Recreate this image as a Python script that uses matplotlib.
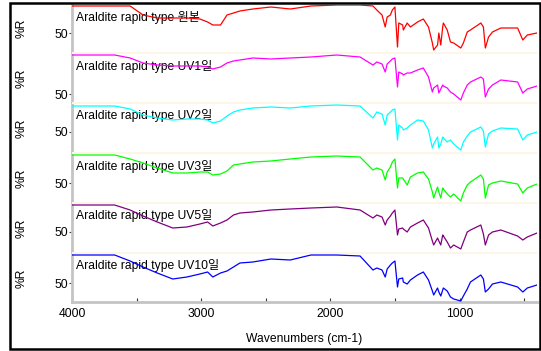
import matplotlib
matplotlib.use('Agg')
import matplotlib.pyplot as plt
from matplotlib.patches import Rectangle

# wavenumber grid (cm-1)
wavenumbers = [4000, 3670, 3550, 3450, 3340, 3220, 3110, 3010, 2950, 2910,
               2850, 2800, 2750, 2700, 2600, 2460, 2310, 2150, 1950, 1770,
               1670, 1640, 1600, 1575, 1560, 1535, 1520, 1500, 1480, 1470,
               1440, 1435, 1405, 1380, 1325, 1280, 1240, 1210, 1200, 1170,
               1160, 1145, 1130, 1125, 1095, 1070, 1045, 990, 970, 940,
               915, 835, 815, 800, 775, 745, 680, 550, 510, 475,
               400]

# %R
r_original = [77, 77, 77, 68, 65, 65, 65, 64, 61, 58,
              58, 68, 70, 72, 74, 76, 74, 77, 78, 78,
              77, 73, 68, 56, 66, 68, 73, 76, 36, 60,
              58, 53, 60, 56, 61, 64, 56, 40, 33, 38,
              50, 38, 56, 60, 53, 41, 40, 35, 40, 51,
              53, 60, 56, 35, 46, 51, 55, 55, 43, 48,
              50]
r_uv1 = [89, 89, 86, 81, 79, 78, 78, 78, 77, 75,
         77, 81, 83, 84, 86, 85, 86, 87, 89, 87,
         79, 82, 80, 72, 80, 83, 85, 86, 57, 72,
         70, 69, 71, 71, 74, 76, 67, 52, 56, 59,
         51, 55, 59, 58, 56, 52, 50, 44, 51, 59,
         62, 67, 65, 47, 55, 59, 64, 62, 51, 55,
         58]
r_uv2 = [76, 76, 73, 67, 64, 62, 63, 63, 62, 59,
         61, 66, 70, 72, 74, 75, 74, 76, 77, 76,
         64, 70, 68, 57, 67, 70, 72, 73, 42, 57,
         54, 52, 54, 57, 62, 61, 52, 34, 38, 45,
         34, 38, 45, 44, 40, 42, 38, 32, 40, 46,
         50, 55, 51, 35, 48, 51, 54, 53, 42, 47,
         50]
r_uv3 = [78, 78, 74, 70, 65, 60, 60, 61, 61, 58,
         59, 62, 68, 69, 71, 72, 74, 76, 77, 76,
         63, 65, 63, 53, 61, 66, 71, 74, 45, 55,
         55, 54, 48, 56, 60, 61, 54, 41, 35, 46,
         41, 35, 45, 44, 39, 36, 39, 32, 40, 48,
         51, 58, 54, 35, 48, 50, 52, 49, 40, 45,
         49]
r_uv5 = [77, 77, 72, 66, 60, 54, 55, 58, 60, 56,
         59, 62, 67, 69, 70, 72, 73, 74, 75, 72,
         64, 67, 65, 57, 62, 66, 69, 72, 47, 53,
         54, 53, 50, 55, 59, 62, 54, 41, 37, 44,
         41, 37, 47, 46, 40, 34, 37, 33, 40, 50,
         52, 57, 48, 37, 47, 50, 52, 46, 42, 45,
         49]
r_uv10 = [78, 78, 72, 66, 60, 54, 56, 59, 61, 56,
          60, 62, 66, 70, 71, 74, 73, 78, 78, 77,
          63, 65, 63, 56, 64, 68, 70, 72, 46, 54,
          55, 51, 49, 53, 58, 61, 53, 42, 38, 45,
          41, 37, 43, 45, 42, 36, 34, 32, 37, 44,
          51, 58, 54, 41, 44, 49, 51, 46, 41, 45,
          48]

series = [r_original, r_uv1, r_uv2, r_uv3, r_uv5, r_uv10]
labels = ['Araldite rapid type 원본', 'Araldite rapid type UV1일',
          'Araldite rapid type UV2일', 'Araldite rapid type UV3일',
          'Araldite rapid type UV5일', 'Araldite rapid type UV10일']
colors = ['#ff0000', '#ff00ff', '#00ffff', '#00ff00', '#800080', '#0000ff']

plt.rcParams['font.family'] = ['Liberation Sans', 'Noto Sans CJK KR']

W, H = 541, 351
fig = plt.figure(figsize=(W / 100, H / 100), dpi=100)

# panel layout in pixels
x0, x1 = 72, 537
tops = [5, 54, 104, 154, 204, 254]
bottoms = [52, 102, 152, 202, 252, 302]
tick50 = [33, 94, 132, 183, 232, 283]
cream = '#fdf5e6'

for i in range(6):
    t, b = tops[i], bottoms[i]
    ax = fig.add_axes([x0 / W, 1 - b / H, (x1 - x0) / W, (b - t) / H])
    ax.plot(wavenumbers, series[i], color=colors[i], lw=0.9, zorder=3)
    ax.set_xlim(4000, 400)
    ax.set_ylim(50 - (b - tick50[i]), 50 + (tick50[i] - t))
    ax.set_yticks([50])
    ax.tick_params(axis='y', length=2, width=0.8, pad=1, labelsize=8.7,
                   color='#444444')
    for s in ['top', 'right']:
        ax.spines[s].set_visible(False)
    ax.spines['left'].set_color('#c4c4c4')
    ax.spines['left'].set_linewidth(2)
    ax.text((76 - x0) / (x1 - x0), 1 - 12 / (b - t), labels[i],
            transform=ax.transAxes, va='center', ha='left', fontsize=8.7,
            zorder=1)
    fig.text(22 / W, 1 - (t + b) / 2 / H, '%R', rotation=90, ha='center',
             va='center', fontsize=8.7)
    if i < 5:
        ax.spines['bottom'].set_visible(False)
        ax.set_xticks([])
        fig.add_artist(Rectangle((x0 / W, 1 - tops[i + 1] / H), (x1 - x0) / W,
                                 (tops[i + 1] - b) / H,
                                 transform=fig.transFigure, color=cream, lw=0))
    else:
        ax.spines['bottom'].set_color('#c4c4c4')
        ax.spines['bottom'].set_linewidth(2)
        ax.set_xticks([4000, 3000, 2000, 1000])
        ax.set_xticks([3500, 2500, 1500, 500], minor=True)
        ax.tick_params(axis='x', which='both', direction='in', length=3,
                       width=0.8, color='#333333', labelsize=8.7, pad=4)
        ax.set_xlabel('Wavenumbers (cm-1)', fontsize=8.7, labelpad=10)

# outer frame
fig.add_artist(Rectangle((10 / W, 1 - 349 / H), 530 / W, 346 / H,
                         transform=fig.transFigure, fill=False,
                         ec='black', lw=1.8))

fig.savefig('out.png', dpi=100)
